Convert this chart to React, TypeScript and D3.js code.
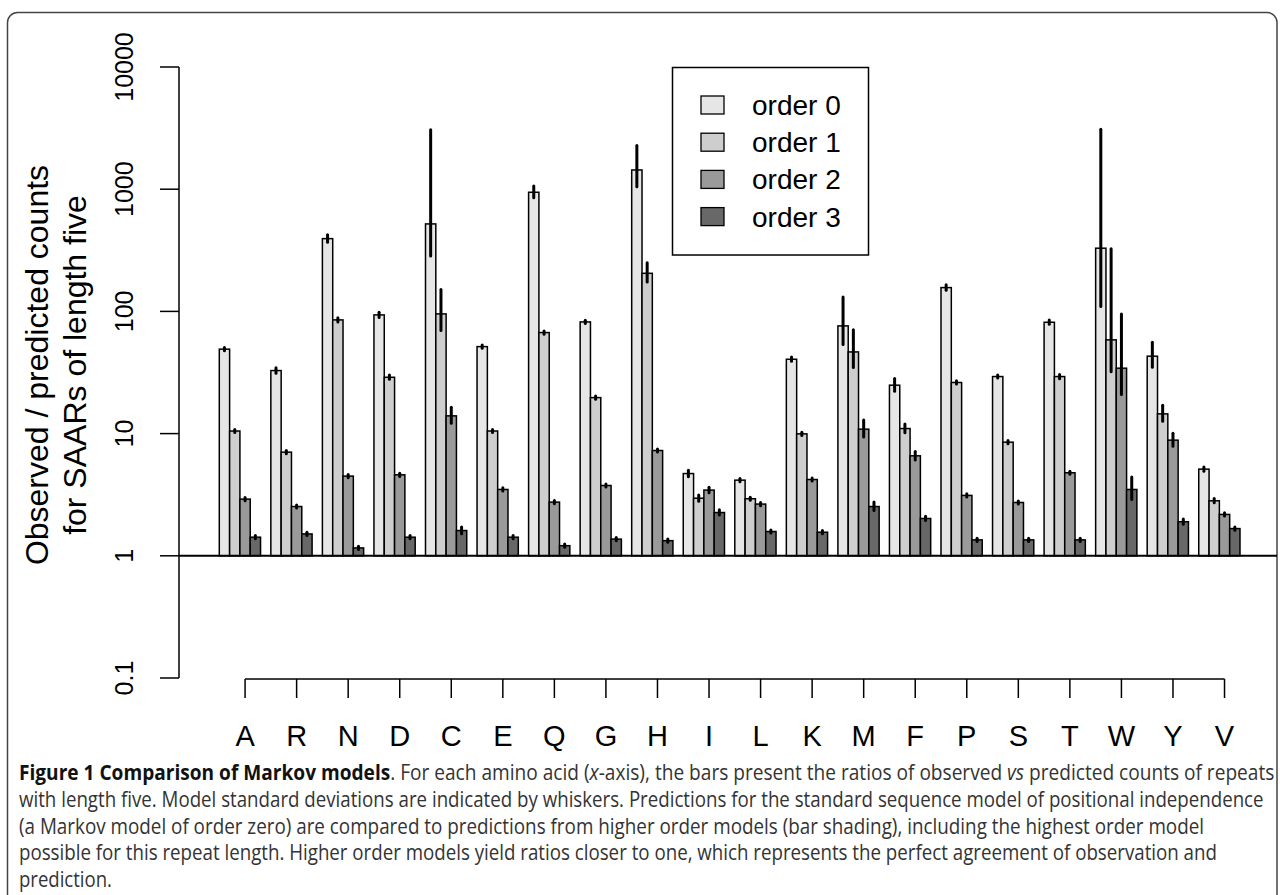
import React from "react";
import * as d3 from "d3";

// ---------- data ----------
const categories = ["A", "R", "N", "D", "C", "E", "Q", "G", "H", "I", "L", "K", "M", "F", "P", "S", "T", "W", "Y", "V"];
const orders = ["order 0", "order 1", "order 2", "order 3"];

const order0 = [49.1, 32.8, 394, 93.6, 520, 51.5, 944, 82.0, 1437, 4.71, 4.16, 40.6, 76.1, 24.9, 156.6, 29.3, 81.5, 329, 43.0, 5.12];
const order1 = [10.5, 7.05, 85.2, 28.9, 95.4, 10.5, 67.1, 19.7, 205, 2.96, 2.93, 9.95, 46.6, 11.0, 26.2, 8.51, 29.3, 58.5, 14.5, 2.82];
const order2 = [2.91, 2.53, 4.49, 4.6, 13.97, 3.49, 2.75, 3.76, 7.27, 3.45, 2.65, 4.21, 10.87, 6.58, 3.12, 2.73, 4.78, 34.3, 8.84, 2.18];
const order3 = [1.42, 1.51, 1.16, 1.42, 1.61, 1.42, 1.21, 1.37, 1.33, 2.26, 1.58, 1.56, 2.53, 2.02, 1.35, 1.35, 1.35, 3.49, 1.9, 1.67];

// relative model standard deviation (whisker = value/(1±sd))
const sd0 = [0.03, 0.05, 0.07, 0.05, 0.83, 0.03, 0.11, 0.03, 0.37, 0.06, 0.03, 0.04, 0.42, 0.12, 0.05, 0.03, 0.04, 2.0, 0.23, 0.04];
const sd1 = [0.03, 0.03, 0.04, 0.04, 0.37, 0.03, 0.03, 0.03, 0.18, 0.06, 0.03, 0.03, 0.34, 0.08, 0.03, 0.03, 0.04, 0.82, 0.15, 0.04];
const sd2 = [0.03, 0.03, 0.03, 0.03, 0.15, 0.03, 0.03, 0.03, 0.03, 0.05, 0.03, 0.03, 0.16, 0.08, 0.03, 0.03, 0.03, 0.64, 0.12, 0.03];
const sd3 = [0.03, 0.03, 0.03, 0.03, 0.065, 0.03, 0.03, 0.03, 0.03, 0.05, 0.03, 0.03, 0.08, 0.04, 0.03, 0.03, 0.03, 0.21, 0.05, 0.03];
const whiskerClip = 3100;

const yTicks = [0.1, 1, 10, 100, 1000, 10000];
const yTickLabels = ["0.1", "1", "10", "100", "1000", "10000"];
const yLabel = ["Observed / predicted counts", "for SAARs of length five"];

const fills = ["#e6e6e6", "#cecece", "#9a9a9a", "#686868"];

const series = [order0, order1, order2, order3];
const sds = [sd0, sd1, sd2, sd3];

const FONT = "'Liberation Sans', Arial, Helvetica, sans-serif";
const CAP_FONT = "'Open Sans', 'Noto Sans', sans-serif";
const CAP_SIZE = 21;

type Part = { t: string; w?: string; s?: string };
const captionLines: { parts: Part[]; len: number }[] = [
  {
    parts: [
      { t: "Figure 1 Comparison of Markov models", w: "bold" },
      { t: ". For each amino acid (" },
      { t: "x", s: "italic" },
      { t: "-axis), the bars present the ratios of observed " },
      { t: "vs", s: "italic" },
      { t: " predicted counts of repeats" },
    ],
    len: 1256,
  },
  { parts: [{ t: "with length five. Model standard deviations are indicated by whiskers. Predictions for the standard sequence model of positional independence" }], len: 1245 },
  { parts: [{ t: "(a Markov model of order zero) are compared to predictions from higher order models (bar shading), including the highest order model" }], len: 1186 },
  { parts: [{ t: "possible for this repeat length. Higher order models yield ratios closer to one, which represents the perfect agreement of observation and" }], len: 1199 },
  { parts: [{ t: "prediction." }], len: 93 },
];

let measureCtx: CanvasRenderingContext2D | null = null;
function measure(text: string, weight: string, style: string): number {
  if (!measureCtx && typeof document !== "undefined") {
    measureCtx = document.createElement("canvas").getContext("2d");
  }
  if (!measureCtx) return text.length * CAP_SIZE * 0.5;
  measureCtx.font = `${style} ${weight} ${CAP_SIZE}px 'Open Sans', 'Noto Sans', sans-serif`;
  return measureCtx.measureText(text).width;
}

export default function App() {
  const W = 1280;
  const H = 895;

  const y = d3.scaleLog().domain([0.1, 10000]).range([678, 67]);
  const step = 51.55;
  const x = d3.scaleBand<string>().domain(categories).range([219.3, 219.3 + step * categories.length]).padding(0);
  const xs = d3.scaleBand<string>().domain(orders).range([0, step * 0.8]).padding(0);
  const bw = xs.bandwidth();
  const y1 = y(1);

  const bars: React.ReactNode[] = [];
  const whiskers: React.ReactNode[] = [];
  categories.forEach((c, i) => {
    orders.forEach((o, k) => {
      const v = series[k][i];
      const r = sds[k][i];
      const bx = (x(c) as number) + (xs(o) as number);
      bars.push(
        <rect key={`b${i}-${k}`} x={bx} y={y(v)} width={bw} height={y1 - y(v)} fill={fills[k]} stroke="#000" strokeWidth={1.5} />
      );
      const hi = r < 1 ? Math.min(v / (1 - r), whiskerClip) : whiskerClip;
      const lo = v / (1 + r);
      whiskers.push(
        <line key={`w${i}-${k}`} x1={bx + bw / 2} x2={bx + bw / 2} y1={y(hi)} y2={y(lo)} stroke="#000" strokeWidth={3} strokeLinecap="round" />
      );
    });
  });

  const tickX = (c: string) => (x(c) as number) + x.bandwidth() / 2;
  const firstTick = tickX(categories[0]);
  const lastTick = tickX(categories[categories.length - 1]);

  // caption: one line per <text>, horizontally condensed (like the reference's narrow face)
  const captionNodes = captionLines.map((ln, i) => {
    const total = ln.parts.reduce((a, p) => a + measure(p.t, p.w || "normal", p.s || "normal"), 0);
    const sx = ln.len / total;
    return (
      <text
        key={`cap${i}`}
        transform={`translate(19,${780 + i * 26.8}) scale(${sx},1)`}
        x={0}
        y={0}
        fontFamily={CAP_FONT}
        fontSize={CAP_SIZE}
        fill="#333"
        style={{ whiteSpace: "pre" }}
      >
        {ln.parts.map((p, j) => (
          <tspan key={j} fontWeight={p.w || "normal"} fontStyle={p.s || "normal"} fill={p.w ? "#111" : "#333"}>
            {p.t}
          </tspan>
        ))}
      </text>
    );
  });

  return (
    <svg width={W} height={H} style={{ position: "absolute", left: 0, top: 0, background: "#fff" }} xmlns="http://www.w3.org/2000/svg">
      <rect x={0} y={0} width={W} height={H} fill="#fff" />
      {/* frame */}
      <path d="M7.5,900 V22.5 A10,10 0 0 1 17.5,12.5 H1267 A10,10 0 0 1 1277,22.5 V900" fill="none" stroke="#444" strokeWidth={1.5} />

      {/* y axis */}
      <line x1={179} x2={179} y1={y(10000)} y2={y(0.1)} stroke="#000" strokeWidth={1.5} />
      {yTicks.map((t, i) => (
        <g key={`yt${i}`}>
          <line x1={160} x2={179} y1={y(t)} y2={y(t)} stroke="#000" strokeWidth={1.5} />
          <text transform={`translate(133,${y(t)}) rotate(-90)`} textAnchor="middle" fontFamily={FONT} fontSize={25} fill="#000">
            {yTickLabels[i]}
          </text>
        </g>
      ))}
      {yLabel.map((l, i) => (
        <text key={`yl${i}`} transform={`translate(${i === 0 ? 48 : 86},365) rotate(-90)`} textAnchor="middle" fontFamily={FONT} fontSize={32} fill="#000">
          {l}
        </text>
      ))}

      {/* bars */}
      {bars}
      {/* reference line at 1 */}
      <line x1={179} x2={1277} y1={y1} y2={y1} stroke="#000" strokeWidth={2} />
      {whiskers}

      {/* x axis */}
      <line x1={firstTick} x2={lastTick} y1={679} y2={679} stroke="#000" strokeWidth={1.5} />
      {categories.map((c) => (
        <g key={`xt${c}`}>
          <line x1={tickX(c)} x2={tickX(c)} y1={679} y2={698} stroke="#000" strokeWidth={1.5} />
          <text x={tickX(c)} y={746} textAnchor="middle" fontFamily={FONT} fontSize={29} fill="#000">
            {c}
          </text>
        </g>
      ))}

      {/* legend */}
      <rect x={672.5} y={67.5} width={196} height={187.5} fill="#fff" stroke="#000" strokeWidth={1.5} />
      {orders.map((o, k) => {
        const cy = 105 + k * 37.2;
        return (
          <g key={`lg${k}`}>
            <rect x={701} y={cy - 9} width={23} height={18} fill={fills[k]} stroke="#000" strokeWidth={1.3} />
            <text x={752} y={cy + 10} fontFamily={FONT} fontSize={28} fill="#000">
              {o}
            </text>
          </g>
        );
      })}

      {/* caption */}
      {captionNodes}
    </svg>
  );
}
